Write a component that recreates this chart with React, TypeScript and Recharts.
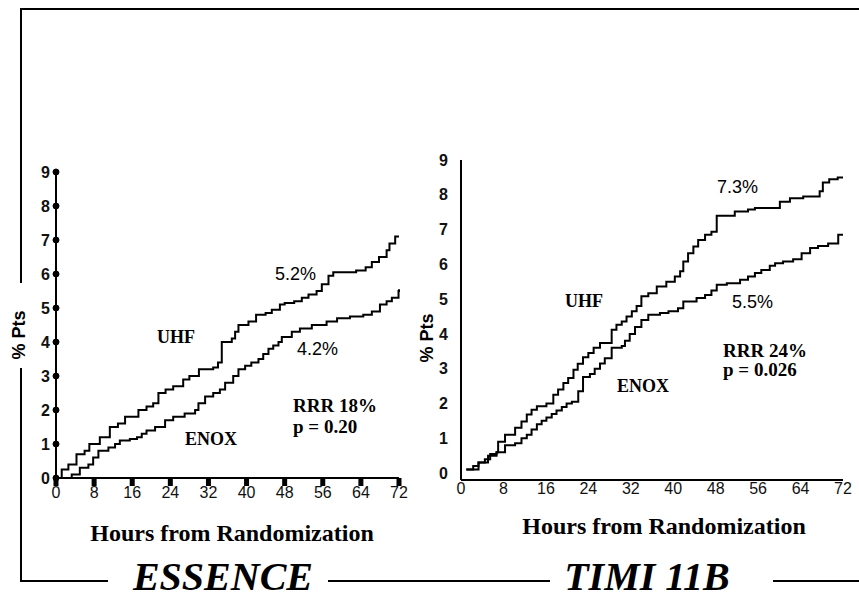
import { LineChart, Line, XAxis, YAxis, ReferenceDot } from 'recharts'

// ESSENCE (left panel)
const essenceUhfHours = [0.5, 1.2, 2.6, 4.3, 6, 7, 9.2, 11.3, 13, 14.5, 17.3, 19, 20.4, 21.5, 23, 24.6, 26.7, 28, 30, 33, 34, 34.8, 36.9, 37.6, 38.3, 40.4, 42, 44, 45.3, 47, 48, 50, 51.6, 53, 54.7, 55.8, 57.2, 58.2, 63, 65, 66.3, 67.8, 69.4, 70, 71.2, 72]
const essenceUhf = [0, 0.25, 0.4, 0.7, 0.8, 1.0, 1.2, 1.5, 1.6, 1.8, 2.0, 2.1, 2.2, 2.5, 2.6, 2.7, 2.9, 3.0, 3.2, 3.25, 3.4, 4.0, 4.1, 4.3, 4.5, 4.6, 4.8, 4.85, 4.95, 5.1, 5.15, 5.2, 5.3, 5.4, 5.5, 5.7, 5.95, 6.05, 6.1, 6.2, 6.35, 6.5, 6.7, 6.9, 7.1, 7.1]
const essenceEnoxHours = [0, 1.2, 3.3, 5, 6.8, 7.8, 8.9, 11, 12.4, 13.4, 15.5, 17, 18, 19, 20.8, 22.9, 24.6, 27, 29.2, 29.9, 31.3, 33, 34.4, 35.5, 37.2, 38.3, 39.7, 41, 42.5, 43.5, 44.6, 45.6, 46.7, 47.4, 49.5, 51.2, 53.7, 56.8, 59, 61.7, 64.5, 66.3, 68, 69.4, 70.5, 71.9, 72]
const essenceEnox = [0, 0, 0.1, 0.3, 0.4, 0.6, 0.8, 0.9, 1.0, 1.1, 1.15, 1.2, 1.3, 1.4, 1.5, 1.7, 1.8, 1.9, 2.0, 2.2, 2.4, 2.5, 2.6, 2.8, 3.0, 3.2, 3.3, 3.4, 3.5, 3.65, 3.8, 3.9, 4.0, 4.15, 4.3, 4.4, 4.5, 4.6, 4.7, 4.75, 4.8, 4.9, 5.1, 5.2, 5.3, 5.5, 5.55]

// TIMI 11B (right panel)
const timiUhfHours = [1, 3.3, 4.5, 5.5, 6.7, 7, 8.3, 10.2, 11.4, 12.4, 13.3, 14.3, 16.1, 17.4, 18.3, 19.3, 20.2, 21.2, 22, 23, 24, 25, 26.2, 28.4, 29.3, 30.3, 31.2, 32.2, 33.1, 34, 35.3, 36.9, 38.7, 40.3, 41.3, 41.9, 42.8, 43.8, 44.7, 46, 47.2, 48.2, 51.6, 54.1, 55.4, 60.1, 62, 64.5, 67.6, 68.2, 69.4, 71, 72]
const timiUhf = [0.1, 0.3, 0.4, 0.55, 0.6, 0.9, 1.1, 1.3, 1.48, 1.68, 1.82, 1.92, 2.0, 2.25, 2.4, 2.59, 2.73, 2.97, 3.14, 3.33, 3.45, 3.6, 3.74, 4.12, 4.26, 4.36, 4.5, 4.65, 4.8, 5.08, 5.17, 5.36, 5.5, 5.65, 5.8, 6.08, 6.32, 6.51, 6.7, 6.85, 6.94, 7.4, 7.52, 7.58, 7.62, 7.8, 7.9, 7.95, 8.1, 8.35, 8.45, 8.5, 8.5]
const timiEnoxHours = [1, 2.3, 3.3, 5.1, 6.7, 8.3, 10.2, 11.4, 12.4, 13.3, 14.3, 15.2, 16.1, 17.1, 18, 19, 19.9, 20.9, 22.1, 23, 24.3, 25.2, 26.2, 27.1, 28.4, 30.3, 30.9, 31.8, 32.8, 34, 35.3, 37.5, 39.1, 40.9, 41.9, 44.4, 46, 47.2, 48.2, 50.1, 52.6, 54.1, 55.4, 56.6, 58.2, 59.2, 60.7, 62.6, 64.2, 65.8, 67.3, 69.2, 71.1, 72]
const timiEnox = [0.1, 0.2, 0.3, 0.5, 0.6, 0.8, 0.86, 1.0, 1.1, 1.25, 1.4, 1.5, 1.6, 1.7, 1.8, 1.9, 2.0, 2.05, 2.35, 2.76, 2.85, 3.0, 3.15, 3.3, 3.6, 3.65, 3.8, 4.0, 4.2, 4.4, 4.55, 4.6, 4.65, 4.74, 4.93, 5.03, 5.12, 5.25, 5.41, 5.46, 5.56, 5.65, 5.75, 5.84, 5.96, 6.03, 6.08, 6.15, 6.32, 6.47, 6.53, 6.6, 6.85, 6.85]

const hourTicks = [0, 8, 16, 24, 32, 40, 48, 56, 64, 72]
const pctTicks = [0, 1, 2, 3, 4, 5, 6, 7, 8, 9]

const zip = (hours: number[], vals: number[]) => hours.map((h, i) => ({ h, v: vals[i] }))

const sans = '"Liberation Sans", Arial, sans-serif'
const serif = '"Liberation Serif", "Times New Roman", serif'
const tickStyle = { fontFamily: sans, fontSize: 16, fill: '#111' }

function EssenceChart() {
  return (
    <div style={{ position: 'absolute', left: 0, top: 150 }}>
      <LineChart width={420} height={358} margin={{ top: 22, right: 21, left: 0, bottom: 0 }}>
        <XAxis type="number" dataKey="h" domain={[0, 72]} ticks={hourTicks} height={30}
          axisLine={{ stroke: '#000', strokeWidth: 2 }} tickLine={{ stroke: '#000', strokeWidth: 5 }}
          tickSize={8} tickMargin={1} tick={tickStyle} />
        <YAxis type="number" domain={[0, 9]} ticks={pctTicks} width={56}
          axisLine={{ stroke: '#000', strokeWidth: 2 }} tickLine={false} tickSize={0} tickMargin={6}
          tick={{ ...tickStyle, fontWeight: 'bold' }} />
        {pctTicks.map((t) => (
          <ReferenceDot key={t} x={0} y={t} r={3} fill="#000" stroke="#000" ifOverflow="visible" />
        ))}
        <Line data={zip(essenceUhfHours, essenceUhf)} dataKey="v" type="stepAfter" stroke="#000"
          strokeWidth={2} dot={false} isAnimationActive={false} />
        <Line data={zip(essenceEnoxHours, essenceEnox)} dataKey="v" type="stepAfter" stroke="#000"
          strokeWidth={2} dot={false} isAnimationActive={false} />
      </LineChart>
    </div>
  )
}

function TimiChart() {
  return (
    <div style={{ position: 'absolute', left: 420, top: 140 }}>
      <LineChart width={439} height={370} margin={{ top: 20, right: 16, left: 0, bottom: 0 }}>
        <XAxis type="number" dataKey="h" domain={[0, 72]} ticks={hourTicks} height={30}
          axisLine={{ stroke: '#000', strokeWidth: 2 }} tickLine={false} tickSize={0} tickMargin={3}
          tick={tickStyle} />
        <YAxis type="number" domain={[-0.2, 9]} ticks={pctTicks} width={41}
          axisLine={{ stroke: '#000', strokeWidth: 2 }} tickLine={false} tickSize={0} tickMargin={13}
          tick={{ ...tickStyle, fontWeight: 'bold' }} />
        <Line data={zip(timiUhfHours, timiUhf)} dataKey="v" type="stepAfter" stroke="#000"
          strokeWidth={2} dot={false} isAnimationActive={false} />
        <Line data={zip(timiEnoxHours, timiEnox)} dataKey="v" type="stepAfter" stroke="#000"
          strokeWidth={2} dot={false} isAnimationActive={false} />
      </LineChart>
    </div>
  )
}

function Overlay() {
  const bold = { fontFamily: serif, fontWeight: 'bold', fill: '#000' } as const
  const pct = { fontFamily: sans, fontSize: 18, fill: '#000' }
  return (
    <svg width={859} height={598} style={{ position: 'absolute', left: 0, top: 0, pointerEvents: 'none' }}>
      {/* frame */}
      <g stroke="#000" strokeWidth={2} fill="none">
        <polyline points="859,9 21,9 21,283" />
        <polyline points="21,368 21,581 108,581" />
        <line x1={328} y1={581} x2={550} y2={581} />
        <line x1={773} y1={581} x2={859} y2={581} />
      </g>
      <text transform="translate(25,335) rotate(-90)" textAnchor="middle" fontFamily={sans} fontSize={18} fontWeight="bold">% Pts</text>
      <text transform="translate(433,338) rotate(-90)" textAnchor="middle" fontFamily={sans} fontSize={18} fontWeight="bold">% Pts</text>

      <text x={232} y={541} textAnchor="middle" fontSize={24} {...bold}>Hours from Randomization</text>
      <text x={664} y={534} textAnchor="middle" fontSize={24} {...bold}>Hours from Randomization</text>

      <text x={223} y={590} textAnchor="middle" fontSize={40} fontStyle="italic" {...bold}>ESSENCE</text>
      <text x={647} y={590} textAnchor="middle" fontSize={40} fontStyle="italic" {...bold}>TIMI 11B</text>

      {/* ESSENCE annotations */}
      <text x={157} y={343} fontSize={18} {...bold}>UHF</text>
      <text x={185} y={445} fontSize={18} {...bold}>ENOX</text>
      <text x={275} y={280} {...pct}>5.2%</text>
      <text x={297} y={355} {...pct}>4.2%</text>
      <text x={293} y={412} fontSize={19} {...bold}>RRR 18%</text>
      <text x={293} y={433} fontSize={19} {...bold}>p = 0.20</text>

      {/* TIMI annotations */}
      <text x={565} y={307} fontSize={18} {...bold}>UHF</text>
      <text x={617} y={392} fontSize={18} {...bold}>ENOX</text>
      <text x={717} y={193} {...pct}>7.3%</text>
      <text x={732} y={308} {...pct}>5.5%</text>
      <text x={723} y={357} fontSize={19} {...bold}>RRR 24%</text>
      <text x={723} y={376} fontSize={19} {...bold}>p = 0.026</text>
    </svg>
  )
}

export default function App() {
  return (
    <div style={{ position: 'absolute', left: 0, top: 0, width: 859, height: 598, background: '#fff' }}>
      <EssenceChart />
      <TimiChart />
      <Overlay />
    </div>
  )
}
